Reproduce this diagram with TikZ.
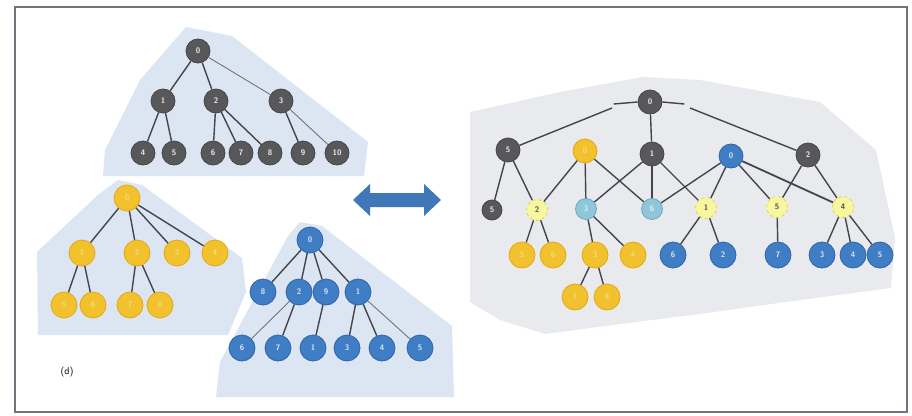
\documentclass[tikz,border=0pt]{standalone}
\usetikzlibrary{shapes.arrows}
\definecolor{gfill}{HTML}{58585A}
\definecolor{yfill}{HTML}{F2C12E}
\definecolor{ydraw}{HTML}{E3A812}
\definecolor{bfill}{HTML}{3F7DC4}
\definecolor{bdraw}{HTML}{2F64A8}
\definecolor{lyfill}{HTML}{F8F7A0}
\definecolor{lydraw}{HTML}{E2D640}
\definecolor{lbfill}{HTML}{90C6DA}
\definecolor{lbdraw}{HTML}{6FA9C2}
\definecolor{edgecol}{HTML}{44444E}
\definecolor{bgblue}{HTML}{DCE6F3}
\definecolor{bggray}{HTML}{E9EAEE}
\definecolor{arrowblue}{HTML}{3F77B8}
\definecolor{framecol}{HTML}{70747C}
\begin{document}
\begin{tikzpicture}[x=1pt,y=-1pt,
  nd/.style={circle,minimum size=24pt,inner sep=0pt,font=\sffamily\footnotesize\bfseries,line width=0.8pt},
  gnode/.style={nd,fill=gfill,draw=gfill!80!black,text=white!85!gray},
  ynode/.style={nd,fill=yfill,draw=ydraw,text=yfill!60!white},
  bnode/.style={nd,fill=bfill,draw=bdraw,text=white!80!bfill},
  lynode/.style={nd,minimum size=21pt,fill=lyfill,draw=lydraw,dashed,text=black!70},
  lbnode/.style={nd,minimum size=21pt,fill=lbfill,draw=lbdraw,text=white!70!lbfill},
  big/.style={minimum size=26pt},
  edge/.style={draw=edgecol,line width=1.4pt},
  thinedge/.style={draw=edgecol!75,line width=0.9pt}]
\useasboundingbox (0,0) rectangle (912,415);
\fill[white] (0,0) rectangle (912,415);
\draw[framecol,line width=1.8pt] (15,7) rectangle (907,412);

% backgrounds
\fill[bgblue] (186,27) -- (232,36) -- (368,142) -- (364,176) -- (103,176) -- (105,150) -- (140,80) -- cycle;
\fill[bgblue] (118,180) -- (142,185) -- (242,258) -- (246,292) -- (228,335) -- (38,335) -- (37,252) -- (98,195) -- cycle;
\fill[bgblue] (300,222) -- (322,226) -- (452,326) -- (454,397) -- (216,397) -- (220,362) -- (288,236) -- cycle;
\fill[bggray] (470,112) -- (560,92) -- (643,77) -- (700,80) -- (820,102) -- (876,150) -- (895,238) -- (891,288) -- (800,300) -- (700,314) -- (620,324) -- (545,334) -- (500,320) -- (470,302) -- cycle;

% arrow
\fill[arrowblue] (353,200) -- (370,184) -- (370,193) -- (424,193) -- (424,184) -- (441,200)
  -- (424,216) -- (424,207) -- (370,207) -- (370,216) -- cycle;
\coordinate (arr) at (397,200);

% gray tree
\node[gnode] (g0) at (198,51) {0};
\node[gnode] (g1) at (163,101) {1};
\node[gnode] (g2) at (216,101) {2};
\node[gnode] (g3) at (281,101) {3};
\node[gnode] (g4) at (143,153) {4};
\node[gnode] (g5) at (174,153) {5};
\node[gnode] (g6) at (213,153) {6};
\node[gnode] (g7) at (241,153) {7};
\node[gnode] (g8) at (270,153) {8};
\node[gnode] (g9) at (303,153) {9};
\node[gnode] (g10) at (337,153) {10};
\draw[edge] (g0) -- (g1); \draw[edge] (g0) -- (g2); \draw[thinedge] (g0) -- (g3);
\draw[edge] (g1) -- (g4); \draw[edge] (g1) -- (g5);
\draw[edge] (g2) -- (g6); \draw[edge] (g2) -- (g7); \draw[edge] (g2) -- (g8);
\draw[edge] (g3) -- (g9); \draw[thinedge] (g3) -- (g10);

% yellow tree
\node[ynode,big] (y0) at (127,198) {0};
\node[ynode,big] (y1) at (82,253) {1};
\node[ynode,big] (y2) at (137,253) {2};
\node[ynode,big] (y3) at (177,253) {3};
\node[ynode,big] (y4) at (215,253) {4};
\node[ynode,big] (y5) at (64,305) {5};
\node[ynode,big] (y6) at (93,305) {6};
\node[ynode,big] (y7) at (130,305) {7};
\node[ynode,big] (y8) at (160,305) {8};
\draw[edge] (y0) -- (y1); \draw[edge] (y0) -- (y2); \draw[edge] (y0) -- (y3); \draw[edge] (y0) -- (y4);
\draw[edge] (y1) -- (y5); \draw[edge] (y1) -- (y6);
\draw[edge] (y2) -- (y7); \draw[edge] (y2) -- (y8);

% blue tree
\node[bnode,big] (b0) at (310,240) {0};
\node[bnode,big] (b1) at (263,292) {8};
\node[bnode,big] (b2) at (299,292) {2};
\node[bnode,big] (b3) at (326,292) {9};
\node[bnode,big] (b4) at (358,292) {1};
\node[bnode,big] (b5) at (242,348) {6};
\node[bnode,big] (b6) at (278,348) {7};
\node[bnode,big] (b7) at (313,348) {1};
\node[bnode,big] (b8) at (347,348) {3};
\node[bnode,big] (b9) at (382,348) {4};
\node[bnode,big] (b10) at (420,348) {5};
\draw[edge] (b0) -- (b1); \draw[edge] (b0) -- (b2); \draw[edge] (b0) -- (b3); \draw[edge] (b0) -- (b4);
\draw[thinedge] (b2) -- (b5); \draw[edge] (b2) -- (b6); \draw[edge] (b3) -- (b7);
\draw[edge] (b4) -- (b8); \draw[edge] (b4) -- (b9); \draw[thinedge] (b4) -- (b10);

% label
\node[font=\sffamily\normalsize] (lab) at (67,372) {(d)};

% merged graph
\node[gnode] (m0) at (650,102) {0};
\node[gnode] (m5) at (508,150) {5};
\node[ynode] (my0) at (585,151) {0};
\node[gnode] (m1) at (652,154) {1};
\node[bnode] (mb0) at (731,156) {0};
\node[gnode] (m2) at (808,155) {2};
\node[gnode,minimum size=20pt] (ms) at (492,210) {5};
\node[lynode] (ly2) at (537,210) {2};
\node[lbnode] (lb1) at (586,209) {3};
\node[lbnode] (lb2) at (652,209) {6};
\node[lynode] (ly1) at (706,208) {1};
\node[lynode] (ly5) at (777,207) {5};
\node[lynode] (ly4) at (843,207) {4};
\node[ynode,big] (yl1) at (522,255) {5};
\node[ynode,big] (yl2) at (553,255) {6};
\node[ynode,big] (yl3) at (595,255) {3};
\node[ynode,big] (yl4) at (633,255) {4};
\node[ynode,big] (yl5) at (575,297) {7};
\node[ynode,big] (yl6) at (607,297) {8};
\node[bnode,big] (bl1) at (673,255) {6};
\node[bnode,big] (bl2) at (723,255) {2};
\node[bnode,big] (bl3) at (778,255) {7};
\node[bnode,big] (bl4) at (822,255) {3};
\node[bnode,big] (bl5) at (853,255) {4};
\node[bnode,big] (bl6) at (880,255) {5};

\coordinate (k1) at (612,108);
\coordinate (k2) at (690,108);
\draw[edge] (m0.west) -- ++(-24,2);
\draw[edge] (k1) -- (m5);
\draw[edge] (m0.east) -- ++(22,2);
\draw[edge] (k2) -- (m2);
\draw[edge] (m0) -- (m1);
\draw[edge] (m5) -- (ms); \draw[edge] (m5) -- (ly2);
\draw[edge] (my0) -- (ly2); \draw[edge] (my0) -- (lb1); \draw[edge] (my0) -- (lb2);
\draw[edge] (m1) -- (lb1); \draw[edge] (m1) -- (lb2); \draw[edge] (m1) -- (ly1);
\draw[edge] (lb2) -- (mb0);
\draw[edge] (mb0) -- (ly1); \draw[edge] (mb0) -- (ly5); \draw[edge,line width=1.8pt] (mb0) -- (ly4);
\draw[edge] (m2) -- (ly5); \draw[edge] (m2) -- (ly4);
\draw[edge] (ly2) -- (yl1); \draw[edge] (ly2) -- (yl2);
\draw[edge] (lb1) -- (yl3); \draw[edge] (lb1) -- (yl4);
\draw[edge] (yl3) -- (yl5); \draw[edge] (yl3) -- (yl6);
\draw[edge] (ly1) -- (bl1); \draw[edge] (ly1) -- (bl2);
\draw[edge] (ly5) -- (bl3);
\draw[edge] (ly4) -- (bl4); \draw[edge] (ly4) -- (bl5); \draw[edge] (ly4) -- (bl6);
\end{tikzpicture}
\end{document}
